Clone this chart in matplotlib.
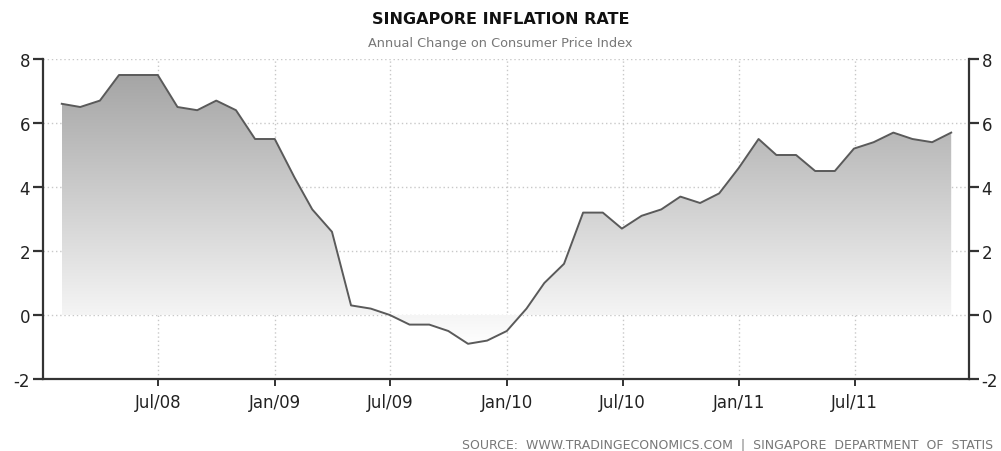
import numpy as np
import pandas as pd
import matplotlib
matplotlib.use("Agg")
import matplotlib.pyplot as plt
import matplotlib.dates as mdates
from matplotlib.patches import Polygon

plt.rcParams["axes.unicode_minus"] = False

# monthly values, Jan 2008 .. Nov 2011 (month-end)
months = pd.date_range("2008-01-31", periods=47, freq="ME")
inflation = [6.6, 6.5, 6.7, 7.5, 7.5, 7.5, 6.5, 6.4, 6.7, 6.4, 5.5, 5.5,
             4.3, 3.3, 2.6, 0.3, 0.2, 0.0, -0.3, -0.3, -0.5, -0.9, -0.8, -0.5,
             0.2, 1.0, 1.6, 3.2, 3.2, 2.7, 3.1, 3.3, 3.7, 3.5, 3.8, 4.6,
             5.5, 5.0, 5.0, 4.5, 4.5, 5.2, 5.4, 5.7, 5.5, 5.4, 5.7]
tick_dates = pd.to_datetime(["2008-07-01", "2009-01-01", "2009-07-01", "2010-01-01",
                             "2010-07-01", "2011-01-01", "2011-07-01"])
tick_labels = ["Jul/08", "Jan/09", "Jul/09", "Jan/10", "Jul/10", "Jan/11", "Jul/11"]
yticks = [-2, 0, 2, 4, 6, 8]

W, H = 1001, 452
fig = plt.figure(figsize=(W / 100, H / 100), dpi=100)
ax = fig.add_axes([42.7 / W, 1 - 380 / H, (969 - 42.7) / W, 320 / H])

x = mdates.date2num(months)
y = np.array(inflation)
xmin = mdates.date2num(pd.Timestamp("2008-01-01"))
xmax = mdates.date2num(pd.Timestamp("2011-12-28"))

# gradient fill between curve and zero
cmap = matplotlib.colors.LinearSegmentedColormap.from_list(
    "g", [(0, "#ffffff"), (1 / 9, "#f5f5f5"), (1, "#a0a0a0")])
grad = np.linspace(0, 1, 256).reshape(-1, 1)
img = ax.imshow(grad, extent=[x[0], x[-1], -1.0, 8.0], origin="lower",
                cmap=cmap, aspect="auto", zorder=1)
verts = np.vstack([[x[0], 0], np.column_stack([x, y]), [x[-1], 0]])
poly = Polygon(verts, closed=True, facecolor="none", edgecolor="none")
ax.add_patch(poly)
img.set_clip_path(poly)

ax.plot(x, y, color="#5a5a5a", lw=1.4, zorder=3)

ax.set_xlim(xmin, xmax)
ax.set_ylim(-2, 8)
ax.set_xticks(mdates.date2num(tick_dates))
ax.set_xticklabels(tick_labels)
ax.set_yticks(yticks)
ax.grid(True, color="#c8c8c8", linestyle=(0, (1, 2)), lw=1)
ax.set_axisbelow(True)

for s in ["left", "right", "bottom"]:
    ax.spines[s].set_color("#333333")
    ax.spines[s].set_linewidth(1.6)
ax.spines["top"].set_visible(False)

ax.tick_params(axis="y", which="both", direction="out", length=7, width=1.6,
               color="#333333", labelsize=12, labelcolor="#222222",
               left=True, right=True, labelleft=True, labelright=True, pad=2)
ax.tick_params(axis="x", direction="out", length=5, width=1.4, color="#333333",
               labelsize=12, labelcolor="#222222", pad=5)

fig.text(0.5, 1 - 20 / H, "SINGAPORE INFLATION RATE", ha="center", va="center",
         fontsize=11.5, fontweight="bold", color="#111111")
fig.text(0.5, 1 - 44 / H, "Annual Change on Consumer Price Index", ha="center",
         va="center", fontsize=9.3, color="#777777")
fig.text(462 / W, 1 - 445 / H,
         "SOURCE:  WWW.TRADINGECONOMICS.COM  |  SINGAPORE  DEPARTMENT  OF  STATIS",
         ha="left", va="center", fontsize=9, color="#777777")

fig.savefig("out.png", dpi=100)
